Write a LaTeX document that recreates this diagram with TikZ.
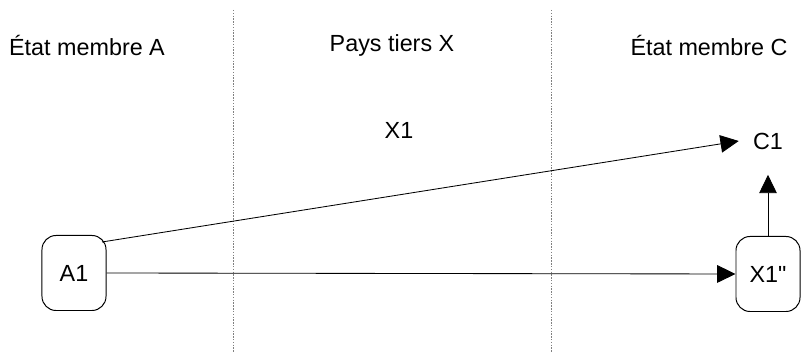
\documentclass[tikz,border=0pt]{standalone}
\usepackage{fontspec}
\setmainfont{Liberation Sans}
\usetikzlibrary{arrows.meta,positioning}

\begin{document}
\begin{tikzpicture}[
    x=0.025cm, y=-0.025cm,
    zone/.style={font=\fontsize{16.6}{19}\selectfont},
    box/.style={draw, line width=0.7pt, rounded corners=10pt, minimum width=1.6cm,
                minimum height=1.875cm, font=\fontsize{16.6}{19}\selectfont},
    lbl/.style={font=\fontsize{16.6}{19}\selectfont},
    flow/.style={-{Triangle[length=13pt,width=12.5pt]}, line width=0.6pt},
    border/.style={gray, line width=0.4pt, dash pattern=on 1pt off 1pt}
]
    \useasboundingbox (0,0) rectangle (804,352);

    % Zones
    \node[zone] (zoneA) at (87,45) {État membre A};
    \node[zone] (zoneX) at (392,45) {Pays tiers X};
    \node[zone] (zoneC) at (709,45) {État membre C};

    % Borders
    \draw[border] (233,10) -- (233,352);
    \draw[border] (551,10) -- (551,352);

    % Goods
    \node[lbl] (x1) at (399,130) {X1};
    \node[lbl, inner xsep=10pt, inner ysep=18pt] (c1) at (768,141) {C1};
    \node[box] (a1) at (74,273) {A1};
    \node[box] (x1b) at (768,274) {X1\textquotedbl};
    \coordinate (a1c) at (102,242);

    % Flows
    \draw[flow] (a1c) -- (c1.west);
    \draw[flow] (a1.east) -- (x1b.west);
    \draw[flow] (x1b.north) -- (c1.south);
\end{tikzpicture}
\end{document}
